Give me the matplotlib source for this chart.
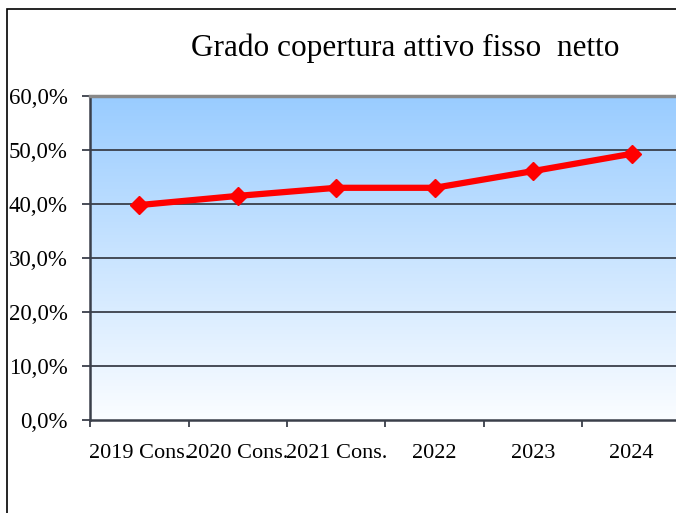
import numpy as np
import matplotlib
matplotlib.use('Agg')
import matplotlib.pyplot as plt
from matplotlib.colors import LinearSegmentedColormap
from matplotlib.patches import Rectangle

categories = ['2019 Cons.', '2020 Cons.', '2021 Cons.', '2022', '2023', '2024']
values = [39.8, 41.5, 43.0, 43.0, 46.1, 49.3]
yticks = [0, 10, 20, 30, 40, 50, 60]

plt.rcParams['font.family'] = ['Liberation Serif', 'DejaVu Serif']

fig = plt.figure(figsize=(6.76, 5.13), dpi=100)
fig.patch.set_facecolor('white')

# outer frame (cropped on right / bottom)
fig.patches.append(Rectangle((7 / 676, -0.2), 1.5, 1.2 - 9 / 513, transform=fig.transFigure,
                             fill=False, edgecolor='black', linewidth=1.2))

ax = fig.add_axes([90 / 676, 1 - 420 / 513, 591 / 676, 324 / 513])

x = np.arange(len(categories))
ax.set_xlim(-0.5, len(categories) - 0.5)
ax.set_ylim(0, 60)

# gradient background
cmap = LinearSegmentedColormap.from_list('bg', ['#fbfdff', '#99ccff'])
grad = np.linspace(0, 1, 256).reshape(-1, 1)
ax.imshow(grad, aspect='auto', cmap=cmap, origin='lower',
          extent=[-0.5, len(categories) - 0.5, 0, 60], zorder=0)

for y in yticks[1:-1]:
    ax.axhline(y, color='#3a3f4a', linewidth=1.3, zorder=1)

ax.plot(x, values, color='#ff0000', linewidth=4.5, marker='D', markersize=9,
        markeredgecolor='#ff0000', zorder=3, clip_on=False)

ax.set_yticks(yticks)
ax.set_yticklabels([f'{v:.1f}%'.replace('.', ',') for v in yticks], fontsize=16.5)
ax.set_xticks(np.arange(-0.5, len(categories)))
ax.set_xticklabels([])
ax.set_xticks(x, minor=True)
ax.set_xticklabels(categories, minor=True, fontsize=16)
ax.tick_params(axis='x', which='minor', length=0, pad=17)
ax.tick_params(axis='x', which='major', length=5, width=1.3, color='#3a3f4a')
ax.tick_params(axis='y', length=6, width=1.3, color='#3a3f4a', pad=10)

ax.spines['top'].set_color('#888888')
ax.spines['top'].set_linewidth(2.5)
ax.spines['left'].set_color('#3a3f4a')
ax.spines['left'].set_linewidth(1.8)
ax.spines['bottom'].set_color('#3a3f4a')
ax.spines['bottom'].set_linewidth(1.8)
ax.spines['right'].set_visible(False)

fig.text(405 / 676, 1 - 48 / 513, 'Grado copertura attivo fisso  netto', fontsize=22.5,
         ha='center', va='center')

fig.savefig('out.png', dpi=100)
